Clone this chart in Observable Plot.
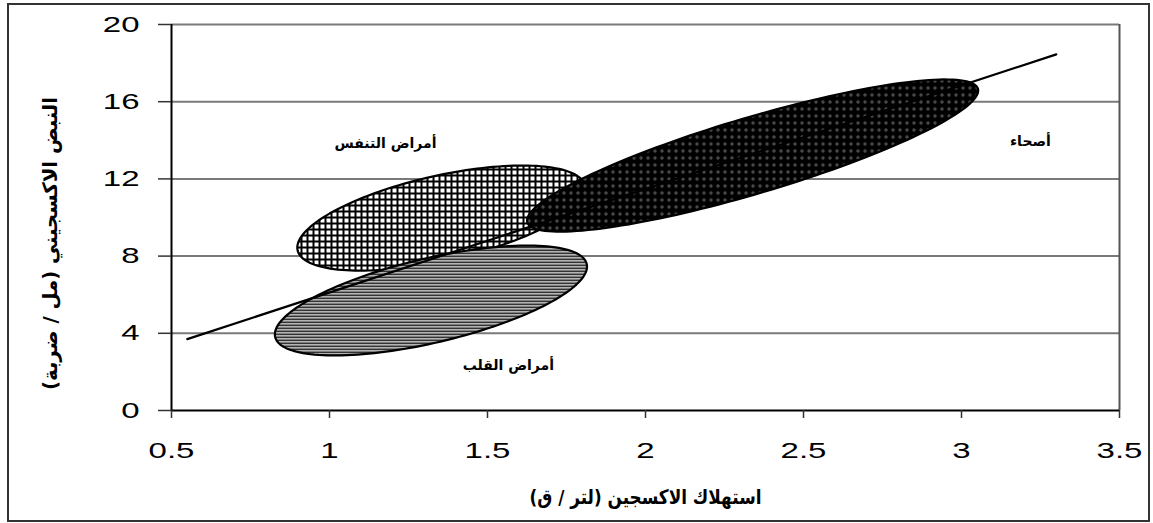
<!DOCTYPE html>
<html>
<head>
<meta charset="utf-8">
<script src="https://cdn.jsdelivr.net/npm/d3@7"></script>
<script src="https://cdn.jsdelivr.net/npm/@observablehq/plot@0.6"></script>
<style>
  html, body { margin: 0; padding: 0; background: #fff; }
  #wrap { position: relative; width: 1153px; height: 523px; }
  #border { position: absolute; left: 7px; top: 3px; width: 1139px; height: 515px; border: 2px solid #333; pointer-events: none; }
</style>
</head>
<body>
<div id="wrap"><div id="border"></div></div>
<script>
// ---- data ----
const xTicks = [0.5, 1, 1.5, 2, 2.5, 3, 3.5];
const yTicks = [0, 4, 8, 12, 16, 20];
const groups = ["أمراض التنفس", "أمراض القلب", "أصحاء"];
// ellipse regions (data units): centre, major half-axis vector, minor half-axis vector
const centerX = [1.354, 1.321, 2.339];
const centerY = [9.97, 5.70, 13.21];
const majorDX = [0.455, 0.493, 0.713];
const majorDY = [1.67, 1.89, 3.46];
const minorDX = [-0.029, -0.030, -0.034];
const minorDY = [2.15, 2.13, 1.89];
// group label anchors
const labelX = [1.177, 1.566, 3.218];
const labelY = [13.83, 2.33, 13.94];
// regression line end points
const trendX = [0.55, 3.3];
const trendY = [3.7, 18.45];
const xTitle = "استهلاك الاكسجين (لتر / ق)";
const yTitle = "النبض الاكسجيني (مل / ضربة)";

// ---- build tables ----
const patternIds = ["patResp", "patHeart", "patHealthy"];
const N = 160;
const ellipses = groups.map((g, i) => d3.range(N).map(k => {
  const t = 2 * Math.PI * k / N;
  return {
    group: g,
    x: centerX[i] + majorDX[i] * Math.cos(t) + minorDX[i] * Math.sin(t),
    y: centerY[i] + majorDY[i] * Math.cos(t) + minorDY[i] * Math.sin(t)
  };
}));
const trend = trendX.map((x, i) => ({x, y: trendY[i]}));
const labels = groups.map((g, i) => ({text: g, x: labelX[i], y: labelY[i]}));

const arabicFont = "'DejaVu Sans', 'Noto Sans', sans-serif";
const numFont = "'Liberation Sans', Arial, sans-serif";

const chart = Plot.plot({
  width: 1153,
  height: 523,
  marginLeft: 171,
  marginRight: 34,
  marginTop: 24,
  marginBottom: 113,
  x: {domain: [0.5, 3.5]},
  y: {domain: [0, 20]},
  style: {fontFamily: numFont, fontSize: "22px", background: "transparent", color: "#000"},
  marks: [
    Plot.ruleY(yTicks.filter(d => d > 0), {stroke: "#7a7a7a", strokeWidth: 2}),
    Plot.ruleX([3.5], {stroke: "#555", strokeWidth: 2}),
    ...ellipses.map((pts, i) => Plot.line(pts, {
      x: "x", y: "y", z: null, curve: "linear-closed",
      fill: `url(#${patternIds[i]})`, stroke: "#000", strokeWidth: 2.2
    })),
    Plot.line(trend, {x: "x", y: "y", stroke: "#000", strokeWidth: 2.2}),
    Plot.ruleX([0.5], {stroke: "#000", strokeWidth: 2}),
    Plot.ruleY([0], {stroke: "#000", strokeWidth: 2}),
    Plot.axisX({ticks: xTicks, tickFormat: d => String(d), tickSize: 8, tickPadding: 24, label: null, stroke: "#333", strokeWidth: 1.5, fontSize: 22, fontFamily: numFont}),
    Plot.axisY({ticks: yTicks, tickFormat: d => String(d), tickSize: 13, tickPadding: 19, label: null, stroke: "#333", strokeWidth: 1.5, fontSize: 22, fontFamily: numFont}),
    Plot.text(labels, {x: "x", y: "y", text: "text", fontFamily: arabicFont, fontWeight: "bold", fontSize: 14, fill: "#000"}),
    Plot.text([xTitle], {frameAnchor: "bottom", dy: 87, textAnchor: "middle", lineAnchor: "middle", text: d => d, fontFamily: arabicFont, fontWeight: "bold", fontSize: 20}),
    Plot.text([yTitle], {frameAnchor: "left", dx: -121, dy: 26, textAnchor: "middle", lineAnchor: "middle", rotate: -90, text: d => d, fontFamily: arabicFont, fontWeight: "bold", fontSize: 20})
  ]
});

// ---- fill patterns ----
const svg = d3.select(chart);
const defs = svg.insert("defs", ":first-child");
// respiratory: checker grid
const p1 = defs.append("pattern").attr("id", "patResp").attr("patternUnits", "userSpaceOnUse").attr("width", 6).attr("height", 6);
p1.append("rect").attr("width", 6).attr("height", 6).attr("fill", "#fff");
p1.append("rect").attr("width", 6).attr("height", 2).attr("fill", "#000");
p1.append("rect").attr("width", 2).attr("height", 6).attr("fill", "#000");
// heart: horizontal stripes
const p2 = defs.append("pattern").attr("id", "patHeart").attr("patternUnits", "userSpaceOnUse").attr("width", 4).attr("height", 3);
p2.append("rect").attr("width", 4).attr("height", 3).attr("fill", "#fff");
p2.append("rect").attr("width", 4).attr("height", 1).attr("fill", "#000");
p2.append("rect").attr("y", 1).attr("width", 4).attr("height", 1).attr("fill", "#666");
// healthy: dark with small light diamonds
const p3 = defs.append("pattern").attr("id", "patHealthy").attr("patternUnits", "userSpaceOnUse").attr("width", 7).attr("height", 7);
p3.append("rect").attr("width", 7).attr("height", 7).attr("fill", "#000");
p3.append("path").attr("d", "M3.5 1.8 L5.2 3.5 L3.5 5.2 L1.8 3.5 Z").attr("fill", "#8a8a8a");
p3.append("rect").attr("x", 3).attr("y", 3).attr("width", 1).attr("height", 1).attr("fill", "#000");

document.getElementById("wrap").prepend(chart);

// the reference typography is horizontally stretched: widen tick labels to match
svg.selectAll("g[aria-label='x-axis tick label'] text, g[aria-label='y-axis tick label'] text").each(function() {
  const w = this.getComputedTextLength();
  d3.select(this).attr("textLength", w * 1.5).attr("lengthAdjust", "spacingAndGlyphs");
});
// titles: fit to the reference's lengths
const titleTexts = svg.selectAll("g[aria-label='text'] text").filter(function() {
  const s = this.textContent; return s === xTitle || s === yTitle;
});
titleTexts.each(function() {
  const target = this.textContent === xTitle ? 232 : 293;
  d3.select(this).attr("textLength", target).attr("lengthAdjust", "spacingAndGlyphs");
});
</script>
</body>
</html>
